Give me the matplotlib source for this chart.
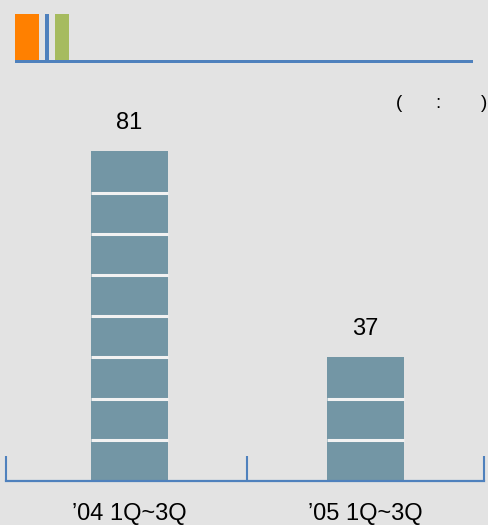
import matplotlib
matplotlib.use("Agg")
import matplotlib.pyplot as plt
from matplotlib.patches import Rectangle

categories = ["\u201904 1Q~3Q", "\u201905 1Q~3Q"]
values = [81, 37]
segments = [8, 3]

W, H = 488, 525
BG = "#e3e3e3"
BAR = "#7396a5"
BLUE = "#4f81bd"
ORANGE = "#ff8000"
GREEN = "#a6bb5f"

plt.rcParams['font.family'] = ['Liberation Sans', 'DejaVu Sans']
fig = plt.figure(figsize=(W / 100, H / 100), dpi=100, facecolor=BG)

def fx(px):
    return px / W

def fy(py):
    return 1 - py / H

# header decoration
for x0, x1, c in [(15, 39, ORANGE), (45, 49, BLUE), (55, 69, GREEN)]:
    fig.add_artist(Rectangle((fx(x0), fy(61)), fx(x1) - fx(x0), fy(14) - fy(61),
                             transform=fig.transFigure, color=c, lw=0))
fig.add_artist(Rectangle((fx(15), fy(63)), fx(473) - fx(15), fy(60) - fy(63),
                         transform=fig.transFigure, color=BLUE, lw=0))

# unit note (glyphs missing in original rendering)
for x, t in [(399, "("), (438, ":"), (484, ")")]:
    fig.text(fx(x), fy(103), t, ha='center', va='center', fontsize=13.5, color='black')

pitch = 41.2
bottom_px = 481
top_px = bottom_px - pitch * 10
ax = fig.add_axes([fx(6), fy(bottom_px), fx(484) - fx(6), fy(top_px) - fy(bottom_px)])
ax.set_facecolor(BG)
ax.patch.set_alpha(0)

xs = list(range(len(categories)))
bw = 0.325
for x, n, v in zip(xs, segments, values):
    ax.bar(x, n, width=bw, color=BAR, lw=0, zorder=2)
    for k in range(1, n):
        ax.hlines(k, x - bw / 2, x + bw / 2, colors="#f2f2f2", lw=2.2, zorder=3)
    ax.annotate(str(v), (x, n), xytext=(0, 16), textcoords='offset points',
                ha='center', va='baseline', fontsize=17)

ax.set_xlim(-0.521, 1.5)
ax.set_ylim(0, 10)
for s in ['top', 'right', 'left']:
    ax.spines[s].set_visible(False)
ax.spines['bottom'].set_color(BLUE)
ax.spines['bottom'].set_linewidth(1.6)
ax.set_yticks([])
ax.set_xticks(xs)
ax.set_xticklabels(categories, fontsize=17)
ax.tick_params(axis='x', which='major', length=0, pad=15.5)
ax.set_xticks([-0.521, 0.5, 1.5], minor=True)
ax.tick_params(axis='x', which='minor', direction='in', length=18, width=1.5, color=BLUE)

fig.savefig("out.png", dpi=100, facecolor=BG)
